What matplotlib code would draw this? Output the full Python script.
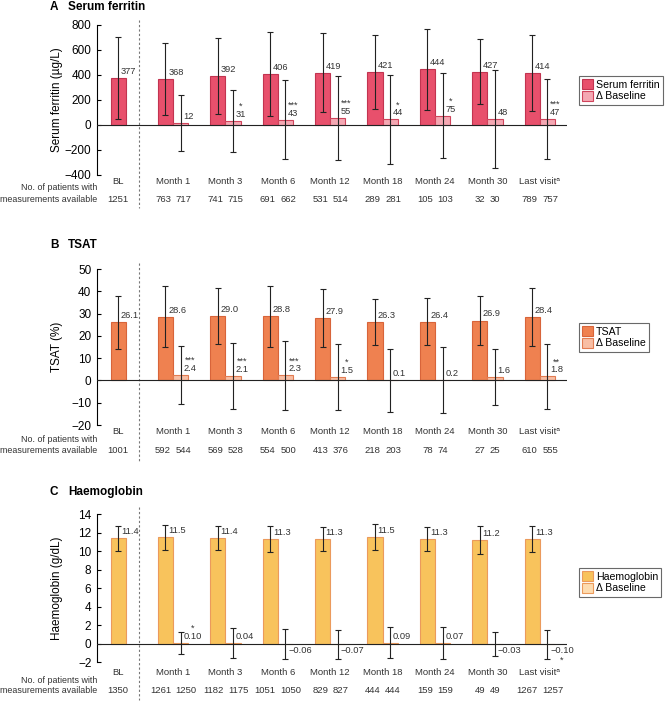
import matplotlib
matplotlib.use('Agg')
import matplotlib.pyplot as plt
from matplotlib.patches import Patch
from matplotlib.transforms import blended_transform_factory

plt.rcParams['font.family'] = ['Liberation Sans', 'DejaVu Sans']

visits = ["Month 1", "Month 3", "Month 6", "Month 12", "Month 18", "Month 24", "Month 30", "Last visit\u1d43"]

# A - serum ferritin
sf_bl = 377
sf_bl_sd = 330
sf_bl_n = 1251
sf_mean = [368, 392, 406, 419, 421, 444, 427, 414]
sf_sd = [290, 303, 337, 313, 295, 322, 258, 306]
sf_delta = [12, 31, 43, 55, 44, 75, 48, 47]
sf_delta_sd = [224, 250, 318, 333, 355, 340, 390, 323]
sf_stars = ["", "*", "***", "***", "*", "*", "", "***"]
sf_n = [763, 741, 691, 531, 289, 105, 32, 789]
sf_n_delta = [717, 715, 662, 514, 281, 103, 30, 757]

# B - TSAT
ts_bl = 26.1
ts_bl_sd = 11.8
ts_bl_n = 1001
ts_mean = [28.6, 29.0, 28.8, 27.9, 26.3, 26.4, 26.9, 28.4]
ts_sd = [13.8, 12.7, 13.6, 13.0, 10.3, 10.6, 11.1, 13.1]
ts_delta = [2.4, 2.1, 2.3, 1.5, 0.1, 0.2, 1.6, 1.8]
ts_delta_sd = [13.0, 14.7, 15.4, 14.8, 14.1, 14.8, 12.5, 14.6]
ts_stars = ["***", "***", "***", "*", "", "", "", "**"]
ts_n = [592, 569, 554, 413, 218, 78, 27, 610]
ts_n_delta = [544, 528, 500, 376, 203, 74, 25, 555]

# C - haemoglobin
hb_bl = 11.4
hb_bl_sd = 1.35
hb_bl_n = 1350
hb_mean = [11.5, 11.4, 11.3, 11.3, 11.5, 11.3, 11.2, 11.3]
hb_sd = [1.35, 1.3, 1.4, 1.33, 1.38, 1.33, 1.5, 1.38]
hb_delta = [0.10, 0.04, -0.06, -0.07, 0.09, 0.07, -0.03, -0.10]
hb_delta_sd = [1.18, 1.6, 1.6, 1.58, 1.7, 1.76, 1.3, 1.58]
hb_stars = ["*", "", "", "", "", "", "", "*"]
hb_n = [1261, 1182, 1051, 829, 444, 159, 49, 1267]
hb_n_delta = [1250, 1175, 1050, 827, 444, 159, 49, 1257]

panels = [
    dict(letter="A", title="Serum ferritin", ylabel="Serum ferritin (\u00b5g/L)",
         bl=sf_bl, bl_sd=sf_bl_sd, bl_n=sf_bl_n, mean=sf_mean, sd=sf_sd,
         delta=sf_delta, delta_sd=sf_delta_sd, stars=sf_stars, n=sf_n, nd=sf_n_delta,
         fmt="{:.0f}", dfmt="{:.0f}", ylim=(-400, 800), step=200,
         main_c="#e8506c", main_e="#c23450", d_c="#f4a8b3", d_e="#d0445c",
         rect=[0.1454, 0.7504, 0.7046, 0.2140], title_y=7, rows=(7, 13, 25),
         dash=(1.03, -0.22), leg_y=76),
    dict(letter="B", title="TSAT", ylabel="TSAT (%)",
         bl=ts_bl, bl_sd=ts_bl_sd, bl_n=ts_bl_n, mean=ts_mean, sd=ts_sd,
         delta=ts_delta, delta_sd=ts_delta_sd, stars=ts_stars, n=ts_n, nd=ts_n_delta,
         fmt="{:.1f}", dfmt="{:.1f}", ylim=(-20, 50), step=10,
         main_c="#ef8150", main_e="#d8643a", d_c="#f8bea4", d_e="#e27c52",
         rect=[0.1454, 0.3937, 0.7046, 0.2225], title_y=245, rows=(6.5, 14, 25),
         dash=(1.04, -0.24), leg_y=323),
    dict(letter="C", title="Haemoglobin", ylabel="Haemoglobin (g/dL)",
         bl=hb_bl, bl_sd=hb_bl_sd, bl_n=hb_bl_n, mean=hb_mean, sd=hb_sd,
         delta=hb_delta, delta_sd=hb_delta_sd, stars=hb_stars, n=hb_n, nd=hb_n_delta,
         fmt="{:.1f}", dfmt="{:.2f}", ylim=(-2, 14), step=2,
         main_c="#f8c35c", main_e="#eb9a5c", d_c="#fddcb0", d_e="#eb9a5c",
         rect=[0.1454, 0.0556, 0.7046, 0.2111], title_y=492, rows=(10, 18, 28),
         dash=(1.05, -0.26), leg_y=568),
]

W, H = 667, 701
fig = plt.figure(figsize=(6.67, 7.01), dpi=100)

pos = list(range(1, len(visits) + 1))
bl_pos = 0.1
w = 0.29
px = 1 / 1.389  # pixels to points at 100 dpi
txt_c = "#333333"
fs_row = 6.8
fs_val = 6.7


def fmt_val(f, v):
    s = f.format(v)
    return s.replace("-", "\u2212")


for p in panels:
    ax = fig.add_axes(p["rect"])
    ax.set_xlim(-0.45, 8.52)
    ax.set_ylim(*p["ylim"])
    ax.set_yticks(range(p["ylim"][0], p["ylim"][1] + 1, p["step"]))
    ax.set_xticks([])
    for s in ["top", "right", "bottom"]:
        ax.spines[s].set_visible(False)
    ax.spines["left"].set_linewidth(0.8)
    ax.tick_params(axis="y", direction="in", length=3, width=0.8, labelsize=8.5, pad=4)
    ax.set_ylabel(p["ylabel"], fontsize=8.5)
    ax.yaxis.set_label_coords(-0.072, 0.5)
    ax.axhline(0, color="#222222", lw=0.8, zorder=4)

    main_x = [x - w / 2 for x in pos]
    d_x = [x + w / 2 for x in pos]
    bl_x = bl_pos - w / 2

    ax.bar([bl_x] + main_x, [p["bl"]] + p["mean"], width=w, color=p["main_c"],
           edgecolor=p["main_e"], linewidth=0.8, zorder=2)
    ax.bar(d_x, p["delta"], width=w, color=p["d_c"], edgecolor=p["d_e"],
           linewidth=0.8, zorder=2)
    ax.errorbar([bl_x] + main_x, [p["bl"]] + p["mean"], yerr=[p["bl_sd"]] + p["sd"],
                fmt="none", ecolor="#222222", elinewidth=0.8, capsize=2, capthick=0.8, zorder=5)
    ax.errorbar(d_x, p["delta"], yerr=p["delta_sd"],
                fmt="none", ecolor="#222222", elinewidth=0.8, capsize=2, capthick=0.8, zorder=5)

    # value labels (stars and number kept in one text)
    for x, v in zip([bl_x] + main_x, [p["bl"]] + p["mean"]):
        ax.annotate(fmt_val(p["fmt"], v), (x, v), xytext=(2, 1.5), textcoords="offset points",
                    ha="left", va="bottom", fontsize=fs_val, color=txt_c, zorder=6)
    for x, v, st in zip(d_x, p["delta"], p["stars"]):
        txt = fmt_val(p["dfmt"], v)
        if v >= 0:
            lab = (st + "\n" + txt) if st else txt
            ax.annotate(lab, (x, v), xytext=(2, 1.5), textcoords="offset points",
                        ha="left", va="bottom", fontsize=fs_val, color=txt_c,
                        multialignment="center", linespacing=0.85, zorder=6)
        else:
            lab = (txt + "\n" + st) if st else txt
            ax.annotate(lab, (x, 0), xytext=(2, -2), textcoords="offset points",
                        ha="left", va="top", fontsize=fs_val, color=txt_c,
                        multialignment="center", linespacing=1.0, zorder=6)

    # dashed separator
    tr = blended_transform_factory(ax.transData, ax.transAxes)
    ax.plot([0.35, 0.35], list(p["dash"]), transform=tr, clip_on=False,
            color="#777777", lw=0.8, ls=(0, (2, 2)))

    # visit labels and patient numbers
    r1, rl, r2 = p["rows"]
    ax.annotate("BL", (bl_x, 0), xycoords=tr, xytext=(0, -r1 * px), textcoords="offset points",
                ha="center", va="center", fontsize=fs_row, color=txt_c)
    ax.annotate(str(p["bl_n"]), (bl_x, 0), xycoords=tr, xytext=(0, -r2 * px),
                textcoords="offset points", ha="center", va="center", fontsize=fs_row, color=txt_c)
    for x, lab, n1, n2 in zip(pos, visits, p["n"], p["nd"]):
        ax.annotate(lab, (x, 0), xycoords=tr, xytext=(0, -r1 * px), textcoords="offset points",
                    ha="center", va="center", fontsize=fs_row, color=txt_c)
        ax.annotate(str(n1), (x, 0), xycoords=tr, xytext=(-2 * px, -r2 * px),
                    textcoords="offset points", ha="right", va="center", fontsize=fs_row, color=txt_c)
        ax.annotate(str(n2), (x, 0), xycoords=tr, xytext=(2.5 * px, -r2 * px),
                    textcoords="offset points", ha="left", va="center", fontsize=fs_row, color=txt_c)
    ax.annotate("No. of patients with", (0, 0), xycoords="axes fraction", xytext=(0, -rl * px),
                textcoords="offset points", ha="right", va="center", fontsize=6.4, color=txt_c)
    ax.annotate("measurements available", (0, 0), xycoords="axes fraction", xytext=(0, -r2 * px),
                textcoords="offset points", ha="right", va="center", fontsize=6.4, color=txt_c)

    # panel title
    fig.text(50 / W, 1 - p["title_y"] / H, p["letter"], fontsize=8.5, fontweight="bold",
             ha="left", va="center")
    fig.text(68 / W, 1 - p["title_y"] / H, p["title"], fontsize=8.5, fontweight="bold",
             ha="left", va="center")

    handles = [Patch(facecolor=p["main_c"], edgecolor=p["main_e"], lw=0.8),
               Patch(facecolor=p["d_c"], edgecolor=p["d_e"], lw=0.8)]
    leg = ax.legend(handles, [p["title"], "\u0394 Baseline"], loc="upper left",
                    bbox_to_anchor=(579 / W, 1 - p["leg_y"] / H), bbox_transform=fig.transFigure,
                    borderaxespad=0, fontsize=7.6, handlelength=1.0, handleheight=1.0,
                    handletextpad=0.3, borderpad=0.3, labelspacing=0.15, fancybox=False,
                    edgecolor="#444444")
    leg.get_frame().set_linewidth(0.8)

fig.savefig("out.png", dpi=100)
